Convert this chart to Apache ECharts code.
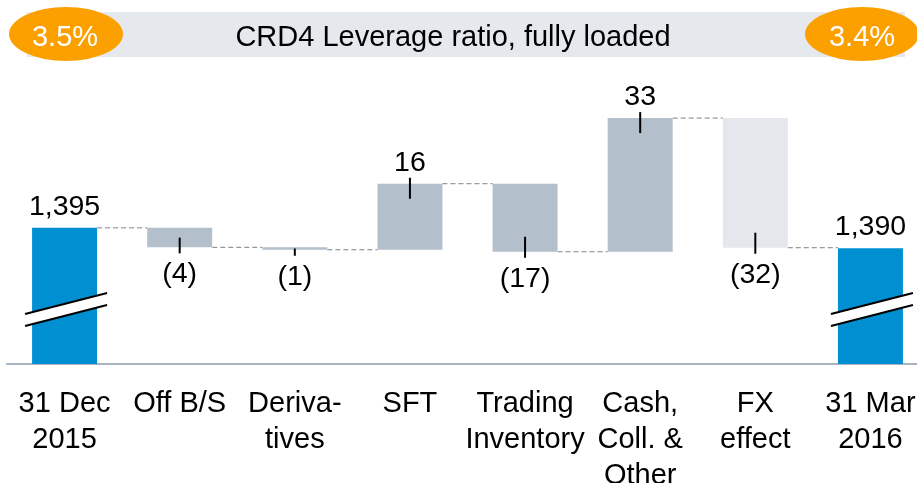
<!DOCTYPE html>
<html>
<head>
<meta charset="utf-8">
<script src="https://cdn.jsdelivr.net/npm/echarts@6/dist/echarts.min.js"></script>
<style>
  html, body { margin: 0; padding: 0; background: #fff; }
  #main { width: 917px; height: 483px; }
</style>
</head>
<body>
<div id="main"></div>
<script>
// data
const categories = ['31 Dec\n2015', 'Off B/S', 'Deriva-\ntives', 'SFT', 'Trading\nInventory', 'Cash,\nColl. &\nOther', 'FX\neffect', '31 Mar\n2016'];
const barValues = [1395, -4.8, -0.6, 16.3, -16.8, 33.0, -32.0, 1390];
const valueLabels = ['1,395', '(4)', '(1)', '16', '(17)', '33', '(32)', '1,390'];
const barKinds = ['total', 'change', 'change', 'change', 'change', 'change', 'fx', 'total'];
const chartTitle = 'CRD4 Leverage ratio, fully loaded';
const startRatio = '3.5%';
const endRatio = '3.4%';

const yMin = 1361.4, yMax = 1431.5;
const font = '"Liberation Sans", Arial, sans-serif';
const colors = { total: '#0090d2', change: '#b3bfcb', fx: '#e4e8ec' };

// build waterfall rows: [idx, low, high, start, end]
let running = 0;
const rows = barValues.map(function (v, i) {
    if (barKinds[i] === 'total') {
        running = v;
        return [i, yMin, v, v, v];
    }
    let start = running;
    running = running + v;
    return [i, Math.min(start, running), Math.max(start, running), start, running];
});

let myChart = echarts.init(document.getElementById('main'));

function renderBar(params, api) {
    let i = api.value(0);
    let top = api.coord([i, api.value(2)]);
    let bot = api.coord([i, api.value(1)]);
    let bw = 65;
    let x0 = top[0] - bw / 2;
    let h = bot[1] - top[1];
    let kind = barKinds[i];
    let children = [];

    // connector to next bar
    if (i < categories.length - 1) {
        let lvl = api.coord([i, api.value(4)]);
        let nxt = api.coord([i + 1, api.value(4)]);
        children.push({
            type: 'line',
            shape: { x1: x0 + bw, y1: lvl[1], x2: nxt[0] - bw / 2, y2: lvl[1] },
            style: { stroke: '#808080', lineWidth: 1, lineDash: [5, 3] }
        });
    }

    children.push({
        type: 'rect',
        shape: { x: x0, y: top[1], width: bw, height: h },
        style: { fill: colors[kind] }
    });

    let labelY;
    if (kind === 'total') {
        labelY = top[1] - 21;
        // axis break marks
        let y0 = bot[1];
        let L = x0 - 7, R = x0 + bw + 10;
        children.push({
            type: 'polygon',
            shape: { points: [[L, y0 - 50], [R, y0 - 71], [R, y0 - 59], [L, y0 - 38]] },
            style: { fill: '#fff' }
        });
        children.push({
            type: 'line',
            shape: { x1: L, y1: y0 - 50, x2: R, y2: y0 - 71 },
            style: { stroke: '#000', lineWidth: 2 }
        });
        children.push({
            type: 'line',
            shape: { x1: L, y1: y0 - 38, x2: R, y2: y0 - 59 },
            style: { stroke: '#000', lineWidth: 2 }
        });
    } else {
        let rising = barValues[i] > 0;
        let edgeY = rising ? top[1] : bot[1];
        let inside = Math.min(15, h / 2);
        let dir = rising ? 1 : -1;
        children.push({
            type: 'line',
            shape: { x1: top[0], y1: edgeY - dir * 6, x2: top[0], y2: edgeY + dir * inside },
            style: { stroke: '#000', lineWidth: 2 }
        });
        labelY = rising ? edgeY - 21 : edgeY + 27;
    }

    children.push({
        type: 'text',
        x: top[0],
        y: labelY,
        style: {
            text: valueLabels[i],
            fill: '#000',
            fontSize: 28.5,
            fontFamily: font,
            align: 'center',
            verticalAlign: 'middle'
        }
    });

    return { type: 'group', children: children };
}

let option = {
    animation: false,
    grid: { left: 7, width: 921, top: 80, bottom: 119, outerBoundsMode: 'none', containLabel: false },
    xAxis: {
        type: 'category',
        data: categories,
        axisTick: { show: false },
        axisLine: { lineStyle: { color: '#a9b3c0', width: 2 } },
        axisLabel: {
            interval: 0,
            margin: 22,
            color: '#000',
            fontSize: 29,
            lineHeight: 36,
            fontFamily: font
        }
    },
    yAxis: {
        type: 'value',
        min: yMin,
        max: yMax,
        show: false,
        splitLine: { show: false }
    },
    graphic: [
        {
            type: 'rect',
            shape: { x: 27, y: 12, width: 878, height: 45 },
            style: { fill: '#e5e8ed' }
        },
        {
            type: 'text',
            x: 453, y: 38,
            style: { text: chartTitle, fill: '#000', fontSize: 29, fontFamily: font, align: 'center', verticalAlign: 'middle' }
        },
        {
            type: 'circle',
            x: 66, y: 34, scaleX: 57 / 27,
            shape: { cx: 0, cy: 0, r: 27 },
            style: { fill: '#fca000' }
        },
        {
            type: 'text',
            x: 65, y: 38,
            style: { text: startRatio, fill: '#fff', fontSize: 29, fontFamily: font, align: 'center', verticalAlign: 'middle' }
        },
        {
            type: 'circle',
            x: 862, y: 34, scaleX: 57 / 27,
            shape: { cx: 0, cy: 0, r: 27 },
            style: { fill: '#fca000' }
        },
        {
            type: 'text',
            x: 862, y: 38,
            style: { text: endRatio, fill: '#fff', fontSize: 29, fontFamily: font, align: 'center', verticalAlign: 'middle' }
        }
    ],
    series: [{
        type: 'custom',
        renderItem: renderBar,
        encode: { x: 0, y: [1, 2] },
        data: rows
    }]
};

myChart.setOption(option);
</script>
</body>
</html>
